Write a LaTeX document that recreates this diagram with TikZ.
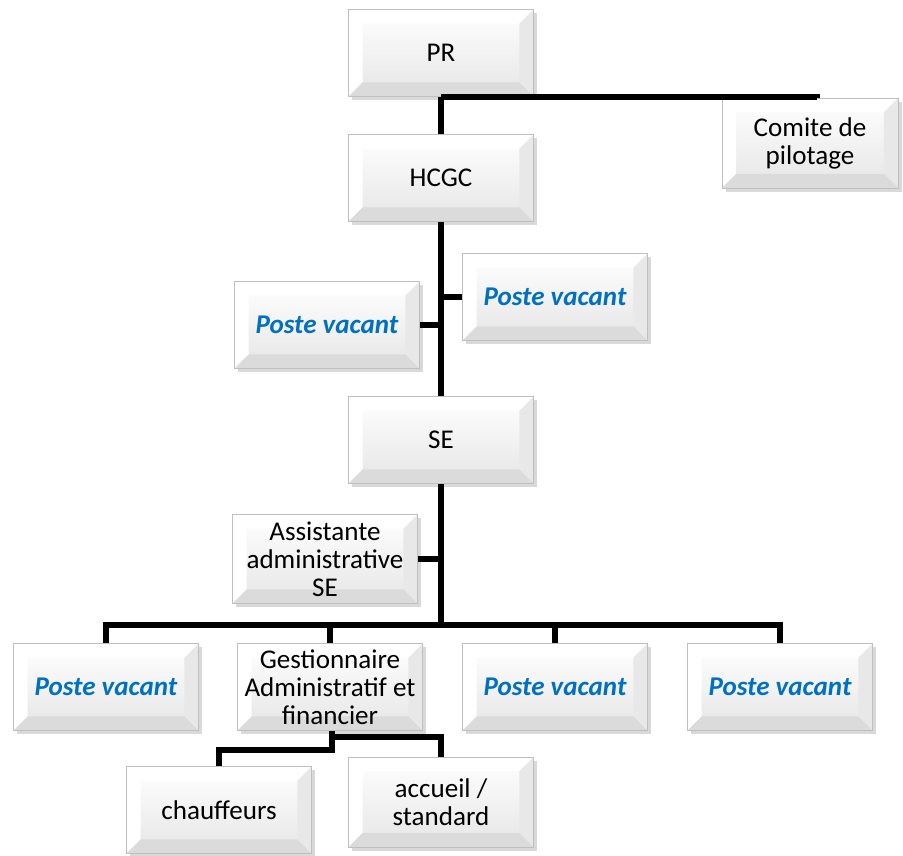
\documentclass[tikz,border=0pt]{standalone}
\usepackage{fontspec}
\setmainfont{Carlito}
\usetikzlibrary{shadows}

\definecolor{vacblue}{HTML}{0070C0}

\tikzset{
    orgbox/.style={
        draw=gray!50, line width=0.4pt,
        minimum width=3.7cm, minimum height=1.74cm,
        align=center, inner sep=1pt,
        font=\fontsize{15.4}{16}\selectfont,
        top color=white, bottom color=gray!20,
        drop shadow={shadow xshift=2pt, shadow yshift=-2pt, opacity=0.3},
        path picture={
            \path (path picture bounding box.south west) coordinate (bsw)
                  (path picture bounding box.north east) coordinate (bne);
            % bevel
            \fill[white] (bsw) -- (bsw |- bne) -- ++(8pt,-8pt) -- ([shift={(8pt,8pt)}]bsw) -- cycle;
            \fill[white] (bsw |- bne) -- (bne) -- ++(-8pt,-8pt) -- ([shift={(8pt,-8pt)}]bsw |- bne) -- cycle;
            \fill[gray!18] (bne) -- (bne |- bsw) -- ++(-8pt,8pt) -- ([shift={(-8pt,-8pt)}]bne) -- cycle;
            \fill[gray!28] (bsw) -- (bne |- bsw) -- ++(-8pt,8pt) -- ([shift={(8pt,8pt)}]bsw) -- cycle;
        }
    },
    vacant/.style={orgbox, text=vacblue, font=\fontsize{15.4}{16}\selectfont\bfseries\itshape},
    link/.style={line width=3.3pt}
}

\begin{document}
\begin{tikzpicture}[
    x=0.2mm,
    y=-0.2mm
]
\useasboundingbox (0,0) rectangle (903,855);

% Top
\node[orgbox] (pr) at (441,53) {PR};
\node[orgbox] (hcgc) at (441,178) {HCGC};
\node[orgbox, minimum width=3.52cm, minimum height=1.8cm] (comite) at (810,143) {Comite de\\pilotage};

% Vacant posts under HCGC
\node[vacant] (pvleft) at (327,325) {Poste vacant};
\node[vacant] (pvright) at (555,297) {Poste vacant};

% SE
\node[orgbox] (se) at (441,440) {SE};
\node[orgbox, minimum height=1.78cm] (asst) at (325,559) {Assistante\\administrative\\SE};

% Bottom row
\node[vacant] (pvone) at (106,687) {Poste vacant};
\node[orgbox] (gest) at (330,687) {Gestionnaire\\Administratif et\\financier};
\node[vacant] (pvthree) at (555,687) {Poste vacant};
\node[vacant] (pvfour) at (780,687) {Poste vacant};

\node[orgbox] (chauf) at (219,810) {chauffeurs};
\node[orgbox, minimum height=1.8cm] (accueil) at (441,802) {accueil /\\standard};

% Links
\coordinate (bus) at (441,625);
\coordinate (gbusl) at (332,750);
\coordinate (gbusr) at (332,737);

\draw[link] (pr.south) -- (hcgc.north);
\draw[link] (pr.south) -| ([xshift=4pt]comite.north);
\draw[link] (hcgc.south) -- (se.north);
\draw[link] (pvleft.east) -- (pvleft.east -| hcgc.south);
\draw[link] (pvright.west) -- (pvright.west -| hcgc.south);

\draw[link] (se.south) -- (bus);
\draw[link] (asst.east) -- (asst.east -| se.south);
\draw[link] (pvone.north) |- (bus) -| (pvfour.north);
\draw[link] (gest.north) -- (gest.north |- bus);
\draw[link] (pvthree.north) -- (pvthree.north |- bus);

\draw[link] (gbusr |- gest.south) -- (gbusl) -| (chauf.north);
\draw[link] (gbusr) -| (accueil.north);

\end{tikzpicture}
\end{document}
